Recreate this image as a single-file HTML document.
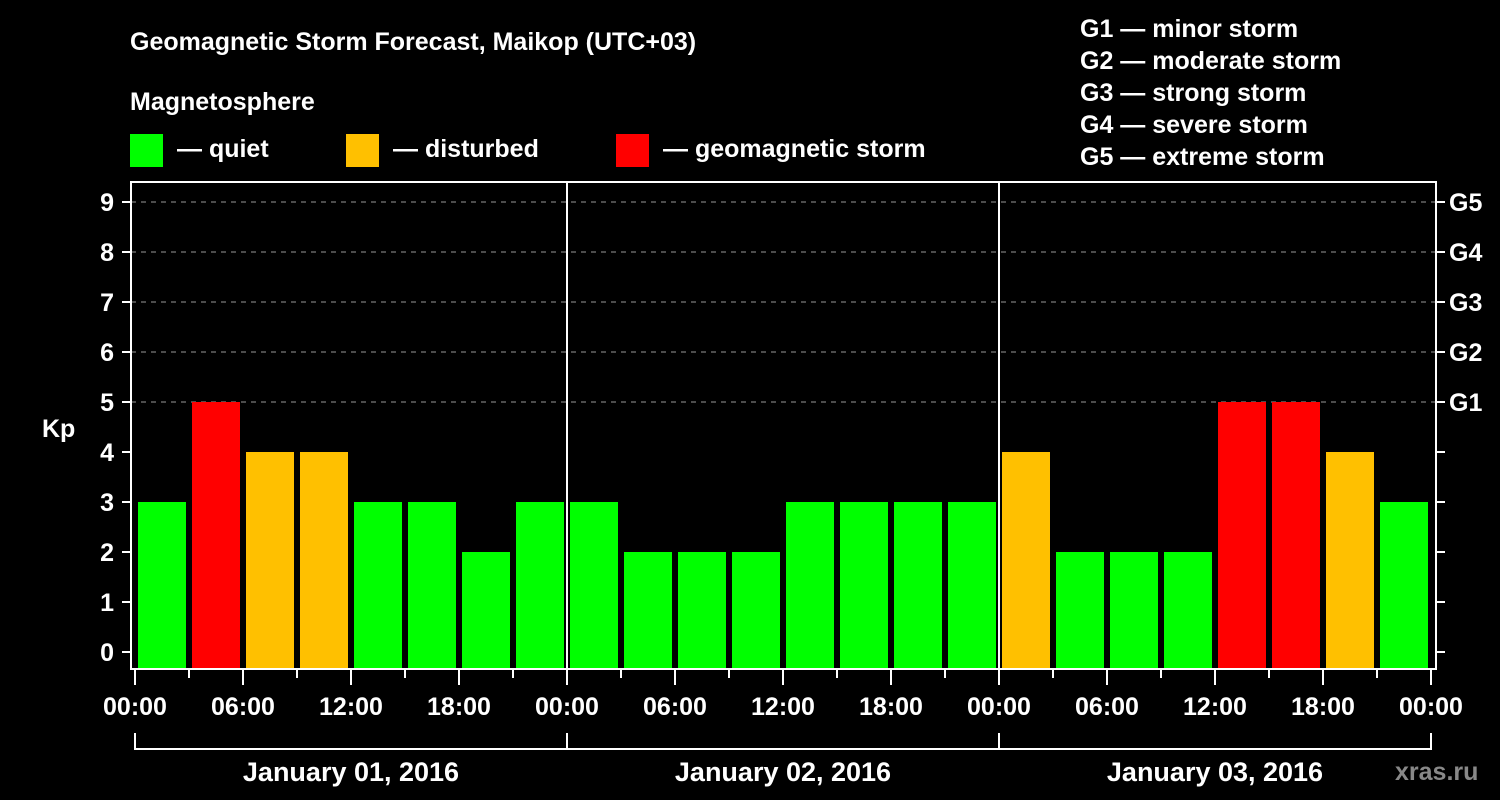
<!DOCTYPE html>
<html><head><meta charset="utf-8"><style>
body{margin:0;background:#000;}
svg{display:block;font-family:"Liberation Sans",sans-serif;font-weight:bold;}
</style></head><body>
<svg id="chart" width="1500" height="800" viewBox="0 0 1500 800">
<rect width="1500" height="800" fill="#000"/>
<text x="130" y="50" fill="#fff" font-size="25">Geomagnetic Storm Forecast, Maikop (UTC+03)</text>
<text x="130" y="110" fill="#fff" font-size="25">Magnetosphere</text>
<g><rect x="130" y="134" width="33" height="33" fill="#00ff00"/><text x="177" y="157" fill="#fff" font-size="25">— quiet</text></g>
<g><rect x="346" y="134" width="33" height="33" fill="#ffc000"/><text x="393" y="157" fill="#fff" font-size="25">— disturbed</text></g>
<g><rect x="616" y="134" width="33" height="33" fill="#ff0000"/><text x="663" y="157" fill="#fff" font-size="25">— geomagnetic storm</text></g>
<g fill="#fff" font-size="25">
<text x="1080" y="37">G1 — minor storm</text>
<text x="1080" y="69">G2 — moderate storm</text>
<text x="1080" y="101">G3 — strong storm</text>
<text x="1080" y="133">G4 — severe storm</text>
<text x="1080" y="165">G5 — extreme storm</text>
</g>
<text x="42" y="437" fill="#fff" font-size="25">Kp</text>
<g id="grid"></g><g id="bars"></g><g id="axes"></g>
<text x="1395" y="780" fill="#888" font-size="25">xras.ru</text>
</svg>
<script>
const days=["January 01, 2016","January 02, 2016","January 03, 2016"];
const kpValues=[3,5,4,4,3,3,2,3, 3,2,2,2,3,3,3,3, 4,2,2,2,5,5,4,3];
const yTicks=[0,1,2,3,4,5,6,7,8,9];
const gLabels=["G1","G2","G3","G4","G5"];
const xLabels=["00:00","06:00","12:00","18:00"];
const NS="http://www.w3.org/2000/svg";
const X0=135,HPX=18,Y0=652,UPX=50,TOP=182,BOT=669,LEFT=131,RIGHT=1436;
const xs=h=>X0+h*HPX, ys=v=>Y0-v*UPX;
function mk(p,t,a){const e=document.createElementNS(NS,t);for(const k in a)e.setAttribute(k,a[k]);p.appendChild(e);return e;}
const grid=document.getElementById('grid'),bars=document.getElementById('bars'),axes=document.getElementById('axes');
for(let v=5;v<=9;v++){const l=mk(grid,'line',{x1:LEFT,x2:RIGHT,y1:ys(v),y2:ys(v),stroke:'#999','stroke-dasharray':'5,5','stroke-width':1});

}
kpValues.forEach((v,i)=>{const c=v>=5?'#ff0000':(v>=4?'#ffc000':'#00ff00');
const r=mk(bars,'rect',{x:xs(i*3)+3,y:ys(v),width:48,height:BOT-1-ys(v),fill:c});

});
// frame
const f=mk(axes,'rect',{x:LEFT,y:TOP,width:RIGHT-LEFT,height:BOT-TOP,fill:'none',stroke:'#fff','stroke-width':2});


yTicks.forEach(v=>{mk(axes,'line',{x1:122,x2:LEFT,y1:ys(v),y2:ys(v),stroke:'#fff','stroke-width':2});
mk(axes,'line',{x1:RIGHT,x2:RIGHT+9,y1:ys(v),y2:ys(v),stroke:'#fff','stroke-width':2});
const t=mk(axes,'text',{x:114,y:ys(v)+9,fill:'#fff','font-size':25,'text-anchor':'end'});t.textContent=v;

});
gLabels.forEach((g,i)=>{const t=mk(axes,'text',{x:1449,y:ys(5+i)+9,fill:'#fff','font-size':25});t.textContent=g;

});
for(let d=0;d<days.length;d++){
 const dx=xs(d*24);
 if(d>0){mk(axes,'line',{x1:dx,x2:dx,y1:TOP,y2:BOT,stroke:'#fff','stroke-width':2});}
 for(let k=0;k<8;k++){const x=xs(d*24+k*3);mk(axes,'line',{x1:x,x2:x,y1:BOT,y2:BOT+(k%2?9:16),stroke:'#fff','stroke-width':2});}
 xLabels.forEach((s,k)=>{const t=mk(axes,'text',{x:xs(d*24+k*6),y:715,fill:'#fff','font-size':25,'text-anchor':'middle'});t.textContent=s;
 
 });
 mk(axes,'line',{x1:dx,x2:dx,y1:733,y2:750,stroke:'#fff','stroke-width':2});
 const t=mk(axes,'text',{x:xs(d*24+12),y:781,fill:'#fff','font-size':27,'text-anchor':'middle'});t.textContent=days[d];
 
 
}
const xe=xs(days.length*24);
mk(axes,'line',{x1:xe,x2:xe,y1:BOT,y2:BOT+16,stroke:'#fff','stroke-width':2});
const tl=mk(axes,'text',{x:xe,y:715,fill:'#fff','font-size':25,'text-anchor':'middle'});tl.textContent="00:00";
mk(axes,'line',{x1:xe,x2:xe,y1:733,y2:750,stroke:'#fff','stroke-width':2});
mk(axes,'line',{x1:X0,x2:xe,y1:749,y2:749,stroke:'#fff','stroke-width':2});
</script>
</body></html>
